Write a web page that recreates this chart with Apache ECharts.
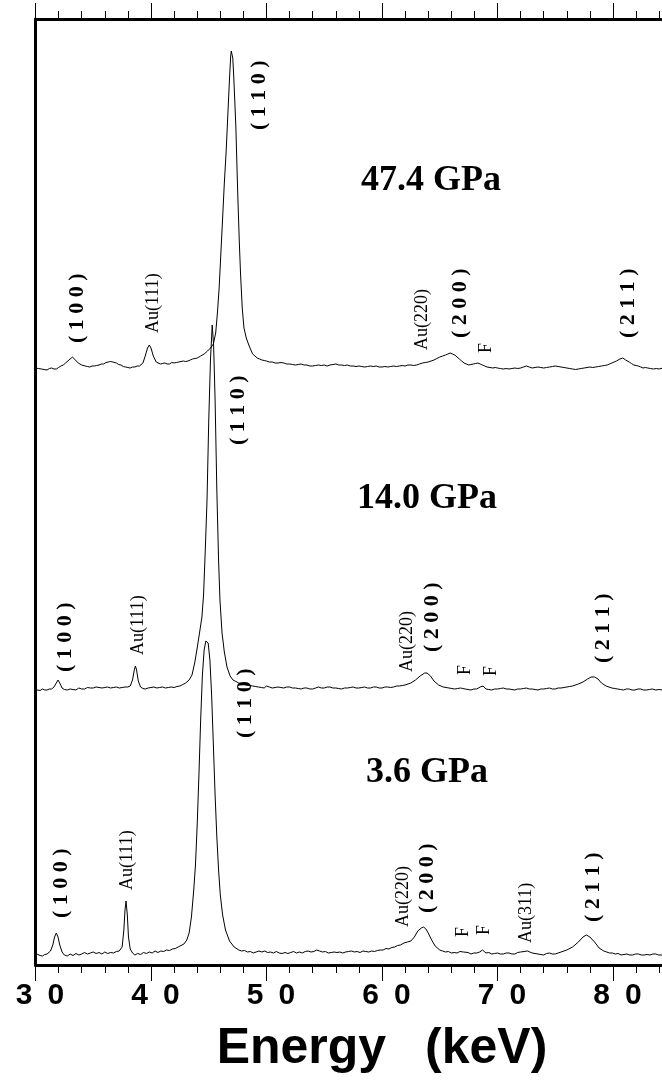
<!DOCTYPE html>
<html><head><meta charset="utf-8">
<script src="https://cdn.jsdelivr.net/npm/echarts/dist/echarts.min.js"></script>
<style>html,body{margin:0;padding:0;background:#fff}#c{width:662px;height:1082px}</style>
</head><body><div id="c"></div>
<script>
// x-axis ticks
const xTickValues = [30, 40, 50, 60, 70, 80, 90];
const xTickLabels = ['3\u20020', '4\u20020', '5\u20020', '6\u20020', '7\u20020', '8\u20020', '9\u20020'];
const xTitle = 'Energy\u2002 (keV)';

// vertical stacking offsets (baseline level of each spectrum, arbitrary units)
const offset36 = 10;
const offset140 = 275;
const offset474 = 597;

// spectra: [energy keV, intensity above own baseline]
const spec36 = [[30.0,1],[30.2,0.5],[30.4,-0.5],[30.6,-1],[30.8,0.5],[31.0,1],[31.15,2],[31.3,4],[31.5,10],[31.65,18],[31.8,22],[31.95,18],[32.1,10],[32.3,3],[32.5,0],[32.75,-1],[33.0,1],[33.25,-0.5],[33.5,1.5],[33.75,0],[34.0,1],[34.25,2.5],[34.5,1],[34.75,2],[35.0,3],[35.25,1.5],[35.5,2.5],[35.75,1],[36.0,3],[36.25,1.5],[36.5,2.5],[36.75,2],[37.0,3.5],[37.25,4],[37.5,8],[37.65,25],[37.75,45],[37.84,54],[37.95,40],[38.05,18],[38.2,6],[38.4,2],[38.6,0],[38.85,1.5],[39.1,0.5],[39.35,2.5],[39.6,1.5],[39.85,3],[40.1,2],[40.35,4],[40.6,2.5],[40.85,4],[41.1,3.5],[41.35,5],[41.6,4.5],[41.85,6],[42.1,6.5],[42.35,8],[42.6,9.5],[42.85,11],[43.1,15],[43.3,22],[43.5,38],[43.7,65],[43.85,90],[44.0,130],[44.15,180],[44.3,235],[44.45,280],[44.6,305],[44.75,314],[44.85,315],[44.95,312],[45.1,295],[45.25,260],[45.4,210],[45.55,160],[45.7,118],[45.85,85],[46.0,60],[46.2,40],[46.45,25],[46.8,14],[47.2,8],[47.6,5],[47.85,4],[48.1,4.5],[48.35,3],[48.6,3.5],[48.85,2],[49.1,3],[49.35,4],[49.6,3],[49.85,4],[50.1,2.5],[50.35,3],[50.6,2],[50.85,3.5],[51.1,2],[51.35,1.5],[51.6,2.5],[51.85,1.5],[52.1,2.5],[52.35,3.5],[52.6,2],[52.85,3],[53.1,2],[53.35,3.5],[53.6,4],[53.85,3],[54.1,3.5],[54.35,5],[54.6,4],[54.85,3],[55.1,3.5],[55.35,2],[55.6,2.5],[55.85,3],[56.1,2.5],[56.35,3],[56.6,2],[56.85,3],[57.1,3.5],[57.35,4],[57.6,3],[57.85,3.5],[58.1,2.5],[58.35,4],[58.6,3.5],[58.85,3],[59.1,4],[59.35,3.5],[59.6,4.5],[59.85,5],[60.1,5],[60.35,6.5],[60.6,6],[60.85,7.5],[61.1,8],[61.35,9.5],[61.6,10],[61.9,12],[62.2,13],[62.5,14],[62.8,18],[63.1,24],[63.4,27],[63.6,28],[63.8,26],[64.0,22],[64.3,15],[64.6,9],[65.0,5],[65.25,4],[65.5,3],[65.75,3.5],[66.0,2],[66.25,2.5],[66.5,2],[66.75,3.5],[66.9,5],[67.05,3],[67.2,2],[67.45,2.5],[67.7,1],[67.95,2],[68.2,2],[68.45,3],[68.7,5],[68.85,3],[69.0,2],[69.25,2.5],[69.5,1],[69.75,1.5],[70.0,2],[70.25,1],[70.5,1],[70.75,2],[71.0,2],[71.25,1],[71.5,1],[71.75,2.5],[72.0,3],[72.3,3.5],[72.6,4],[72.8,3],[73.0,2],[73.25,1.5],[73.5,1],[73.75,0.5],[74.0,0],[74.25,1.5],[74.5,2],[74.75,1],[75.0,1],[75.25,2],[75.5,3],[76.0,5],[76.5,8],[77.0,13],[77.4,18],[77.7,20],[78.0,18],[78.4,13],[78.8,7],[79.2,4],[79.45,3],[79.7,2],[79.95,2],[80.2,1],[80.45,1.5],[80.7,0],[80.95,0.5],[81.2,1],[81.45,0],[81.7,0],[81.95,1],[82.2,1],[82.45,0],[82.7,0],[82.95,0.5],[83.2,0],[83.45,1],[83.7,1],[83.95,0],[84.3,0]];

const spec140 = [[30.0,-1],[30.2,0],[30.4,-0.5],[30.6,1],[30.8,0],[31.0,0],[31.2,1],[31.4,1],[31.6,3],[31.8,7],[31.95,10],[32.1,7],[32.3,2],[32.5,0.5],[32.75,0],[33.0,1],[33.25,0.5],[33.5,0],[33.75,2],[34.0,1],[34.25,1],[34.5,2.5],[34.75,2],[35.0,2],[35.25,3],[35.5,2.5],[35.75,2],[36.0,2.5],[36.25,3],[36.5,2],[36.75,2.5],[37.0,3],[37.25,2],[37.5,2.5],[37.75,3],[38.0,3],[38.2,4],[38.4,10],[38.55,20],[38.65,24],[38.75,20],[38.9,9],[39.1,3],[39.3,1.5],[39.5,1],[39.75,2],[40.0,2.5],[40.25,3],[40.5,2],[40.75,2.5],[41.0,3],[41.25,2],[41.5,2.5],[41.75,3],[42.0,2.5],[42.25,3.5],[42.5,4],[42.75,5.5],[43.0,7],[43.3,10],[43.55,15],[43.8,28],[44.0,42],[44.2,57],[44.41,73],[44.55,95],[44.7,140],[44.85,190],[45.0,270],[45.15,330],[45.3,365],[45.42,345],[45.55,290],[45.7,200],[45.85,130],[45.97,90],[46.15,57],[46.35,38],[46.58,23],[46.85,14],[47.1,10],[47.35,8.5],[47.6,7],[47.95,6],[48.3,5],[48.55,4.5],[48.8,4],[49.05,3.5],[49.3,3],[49.55,2.5],[49.8,2],[50.0,4],[50.25,3],[50.5,2],[50.75,2.5],[51.0,3],[51.25,2.5],[51.5,2],[51.75,3],[52.0,3],[52.25,2],[52.5,2],[52.75,1.5],[53.0,1],[53.25,2],[53.5,2],[53.75,1],[54.0,1],[54.25,2],[54.5,3],[54.75,2],[55.0,2],[55.25,3],[55.5,3],[55.75,2],[56.0,2],[56.25,1.5],[56.5,1],[56.75,2],[57.0,2],[57.25,2.5],[57.5,3],[57.75,2],[58.0,2],[58.25,2.5],[58.5,3],[58.75,2],[59.0,2],[59.25,3],[59.5,3],[59.75,2],[60.0,2],[60.25,3],[60.5,3],[60.75,2.5],[61.0,3],[61.25,4],[61.5,4],[61.75,4.5],[62.0,5],[62.25,6],[62.5,7],[62.9,10],[63.3,14],[63.7,17],[63.9,17],[64.2,14],[64.5,9],[64.9,5],[65.3,3],[65.55,2.5],[65.8,2],[66.05,1.5],[66.3,1],[66.55,1.5],[66.8,2],[67.0,1.5],[67.2,1],[67.45,0.5],[67.7,0],[67.95,1],[68.2,1],[68.5,3],[68.75,4],[69.0,1],[69.25,0.5],[69.5,0],[69.75,1],[70.0,1],[70.25,1.5],[70.5,2],[70.75,1],[71.0,1],[71.25,0.5],[71.5,0],[71.75,1],[72.0,1],[72.25,1.5],[72.5,2],[72.75,1],[73.0,1],[73.25,0.5],[73.5,0],[73.75,1],[74.0,1],[74.25,1.5],[74.5,2],[74.75,1],[75.0,1],[75.25,2],[75.5,2],[75.75,2.5],[76.0,3],[76.25,3.5],[76.5,4],[77.0,6],[77.4,8],[77.8,11],[78.1,13],[78.4,13],[78.7,11],[79.0,7],[79.4,4],[79.65,3],[79.9,2],[80.15,1.5],[80.4,1],[80.65,0.5],[80.9,0],[81.15,1],[81.4,1],[81.65,0],[81.9,0],[82.15,1],[82.4,1],[82.65,0],[82.9,0],[83.15,0.5],[83.4,1],[83.7,0],[84.0,0.5],[84.3,0]];

const spec474 = [[30.0,0],[30.25,-0.5],[30.5,-1],[30.75,-1.5],[31.0,-2],[31.2,-0.5],[31.4,0],[31.6,-1],[31.8,-1],[32.0,0.5],[32.2,2],[32.4,3],[32.6,5],[32.9,8],[33.2,11],[33.45,8],[33.7,5],[34.0,3],[34.15,2.5],[34.3,2],[34.5,1.5],[34.7,1],[34.9,2],[35.1,2],[35.3,2.5],[35.5,3],[35.7,4],[35.9,4],[36.1,5.5],[36.3,6],[36.5,6.5],[36.7,6],[36.85,5],[37.0,5],[37.2,3.5],[37.4,3],[37.6,1.5],[37.8,1],[38.0,0.5],[38.2,0],[38.4,1],[38.6,1],[38.8,2],[39.0,2],[39.15,3],[39.3,5],[39.5,12],[39.7,20],[39.85,23],[40.0,20],[40.2,12],[40.45,6],[40.6,4.5],[40.8,4],[41.0,4.5],[41.2,5],[41.4,4],[41.6,4],[41.8,5.5],[42.0,5],[42.2,5.5],[42.4,6],[42.6,6.5],[42.8,7],[43.0,6.5],[43.2,7],[43.4,8],[43.6,9],[43.8,9.5],[44.0,10],[44.15,11],[44.3,12],[44.45,12.5],[44.6,14],[44.75,15.5],[44.9,17],[45.15,20],[45.4,24],[45.6,35],[45.75,55],[45.9,80],[46.05,115],[46.2,150],[46.35,185],[46.5,215],[46.6,240],[46.7,265],[46.8,290],[46.9,312],[46.95,317],[47.0,318],[47.08,310],[47.15,295],[47.25,268],[47.35,240],[47.45,198],[47.55,160],[47.65,125],[47.75,95],[47.9,60],[48.05,40],[48.25,30],[48.5,22],[48.8,14],[49.0,12],[49.2,10],[49.4,9],[49.6,8],[49.8,7.5],[50.0,7],[50.25,6],[50.5,6],[50.75,5],[51.0,5],[51.25,5.5],[51.5,5],[51.75,4],[52.0,4],[52.25,3.5],[52.5,3],[52.75,3.5],[53.0,4],[53.25,3],[53.5,3],[53.75,2],[54.0,2],[54.25,2.5],[54.5,3],[54.75,2.5],[55.0,3],[55.25,2],[55.5,3],[55.75,3.5],[56.0,4],[56.25,3],[56.5,3],[56.75,2.5],[57.0,3],[57.25,2],[57.5,2],[57.75,1.5],[58.0,2],[58.25,1.5],[58.5,1],[58.75,1.5],[59.0,2],[59.25,1.5],[59.5,2],[59.75,1],[60.0,1],[60.25,1.5],[60.5,1],[60.75,1.5],[61.0,2],[61.25,1.5],[61.5,2],[61.75,2.5],[62.0,2],[62.25,3],[62.5,3],[62.75,2.5],[63.0,3],[63.25,4],[63.5,5],[63.75,5.5],[64.0,6],[64.25,7],[64.5,8],[64.75,9.5],[65.0,11],[65.25,12],[65.5,13],[65.7,14],[65.9,15],[66.1,14],[66.3,13],[66.5,11],[66.7,9],[66.9,7],[67.1,5],[67.3,4],[67.5,3],[67.7,3.5],[67.9,4],[68.1,4.5],[68.3,5],[68.5,4],[68.7,3],[68.9,2],[69.1,1],[69.35,0.5],[69.6,0],[69.8,0.5],[70.0,0],[70.25,-0.5],[70.5,-1],[70.75,-0.5],[71.0,-1],[71.25,-0.5],[71.5,0],[71.75,-0.5],[72.0,0],[72.25,1],[72.5,2],[72.75,1],[73.0,0],[73.25,0.5],[73.5,1],[73.75,0.5],[74.0,0],[74.25,0.5],[74.5,1],[74.75,1.5],[75.0,2],[75.25,1.5],[75.5,1],[75.75,0.5],[76.0,0],[76.25,-0.5],[76.5,-1],[76.75,-1.5],[77.0,-1],[77.25,-0.5],[77.5,0],[77.75,0.5],[78.0,1],[78.25,0.5],[78.5,1],[78.75,1.5],[79.0,2],[79.25,2.5],[79.5,3],[79.7,4],[79.9,5],[80.1,6],[80.3,7],[80.45,8],[80.6,9],[80.85,10],[81.1,8],[81.25,7],[81.4,6],[81.6,4.5],[81.8,3],[82.0,2.5],[82.2,2],[82.4,1],[82.6,0],[82.8,0.5],[83.0,0],[83.25,-0.5],[83.5,-1],[83.75,-0.5],[84.0,-1],[84.3,0]];

// peak annotations: [energy, level (start of rotated text), text]
const peakLabels474 = [[33.59,622,'( 1 0 0 )'],[40.17,632,'Au(111)'],[49.35,835,'( 1 1 0 )'],[63.46,615,'Au(220)'],[66.75,627,'( 2 0 0 )'],[69.0,612,'F'],[81.3,627,'( 2 1 1 )']];
const peakLabels140 = [[32.55,293,'( 1 0 0 )'],[38.87,310,'Au(111)'],[47.53,520,'( 1 1 0 )'],[62.16,293,'Au(220)'],[64.33,313,'( 2 0 0 )'],[67.19,290,'F'],[69.44,289,'F'],[79.13,302,'( 2 1 1 )']];
const peakLabels36 = [[32.21,47,'( 1 0 0 )'],[37.92,75,'Au(111)'],[48.14,227,'( 1 1 0 )'],[61.82,38,'Au(220)'],[63.9,52,'( 2 0 0 )'],[67.01,28,'F'],[68.83,30,'F'],[72.47,22,'Au(311)'],[78.27,43,'( 2 1 1 )']];
// pressure labels: [energy (left edge), level (middle), text]
const pressureLabels = [[58.18,784,'47.4 GPa'],[57.84,466,'14.0 GPa'],[58.61,192,'3.6 GPa']];

const chart = echarts.init(document.getElementById('c'), null, {renderer: 'canvas'});

function lineSeries(spec, off) {
  return {
    type: 'line', data: spec.map(p => [p[0], p[1] + off]),
    showSymbol: false, symbol: 'none', smooth: false, silent: true,
    lineStyle: {color: '#000', width: 1}, animation: false
  };
}

const allPeakLabels = peakLabels474.concat(peakLabels140, peakLabels36);

const axisCommon = {
  type: 'value', min: 30, max: 90, interval: 10,
  splitLine: {show: false},
  axisLine: {onZero: false, lineStyle: {color: '#000', width: 3}},
  axisTick: {inside: false, length: 16, lineStyle: {color: '#000', width: 1}},
  minorTick: {show: true, splitNumber: 5, length: 8, lineStyle: {color: '#000', width: 1}},
  minorSplitLine: {show: false}
};

const option = {
  backgroundColor: '#fff',
  animation: false,
  grid: {left: 35.5, top: 19, width: 693, height: 946, outerBoundsMode: 'none', containLabel: false},
  xAxis: [
    Object.assign({}, axisCommon, {
      position: 'bottom',
      name: xTitle, nameLocation: 'middle', nameGap: 59,
      nameTextStyle: {fontFamily: 'Liberation Sans', fontWeight: 'bold', fontSize: 50, color: '#000'},
      axisLabel: {
        margin: 16, color: '#000', fontFamily: 'Liberation Sans', fontWeight: 'bold', fontSize: 30,
        padding: [0, 0, 0, 9],
        formatter: v => { const i = xTickValues.indexOf(v); return i >= 0 ? xTickLabels[i] : ''; }
      }
    }),
    Object.assign({}, axisCommon, {position: 'top', axisLabel: {show: false}})
  ],
  yAxis: {
    type: 'value', min: 0, max: 946,
    axisLine: {show: true, onZero: false, lineStyle: {color: '#000', width: 3}},
    axisTick: {show: false}, axisLabel: {show: false}, splitLine: {show: false}
  },
  series: [
    lineSeries(spec474, offset474),
    lineSeries(spec140, offset140),
    lineSeries(spec36, offset36),
    {
      type: 'custom', silent: true, animation: false,
      data: allPeakLabels.map(d => [d[0], d[1]]),
      renderItem: (params, api) => {
        const d = allPeakLabels[params.dataIndex];
        const p = api.coord([api.value(0), api.value(1)]);
        const bold = d[2].charAt(0) === '(';
        return {
          type: 'text', x: p[0], y: p[1], rotation: Math.PI / 2,
          style: {
            text: d[2], fill: '#000',
            font: (bold ? 'bold 22px' : '18px') + ' "Liberation Serif", "Times New Roman", serif',
            align: 'left', verticalAlign: 'middle'
          }
        };
      }
    },
    {
      type: 'custom', silent: true, animation: false,
      data: pressureLabels.map(d => [d[0], d[1]]),
      renderItem: (params, api) => {
        const d = pressureLabels[params.dataIndex];
        const p = api.coord([api.value(0), api.value(1)]);
        return {
          type: 'text', x: p[0], y: p[1],
          style: {
            text: d[2], fill: '#000',
            font: 'bold 36px "Liberation Serif", "Times New Roman", serif',
            align: 'left', verticalAlign: 'middle'
          }
        };
      }
    }
  ]
};
chart.setOption(option);
</script></body></html>
